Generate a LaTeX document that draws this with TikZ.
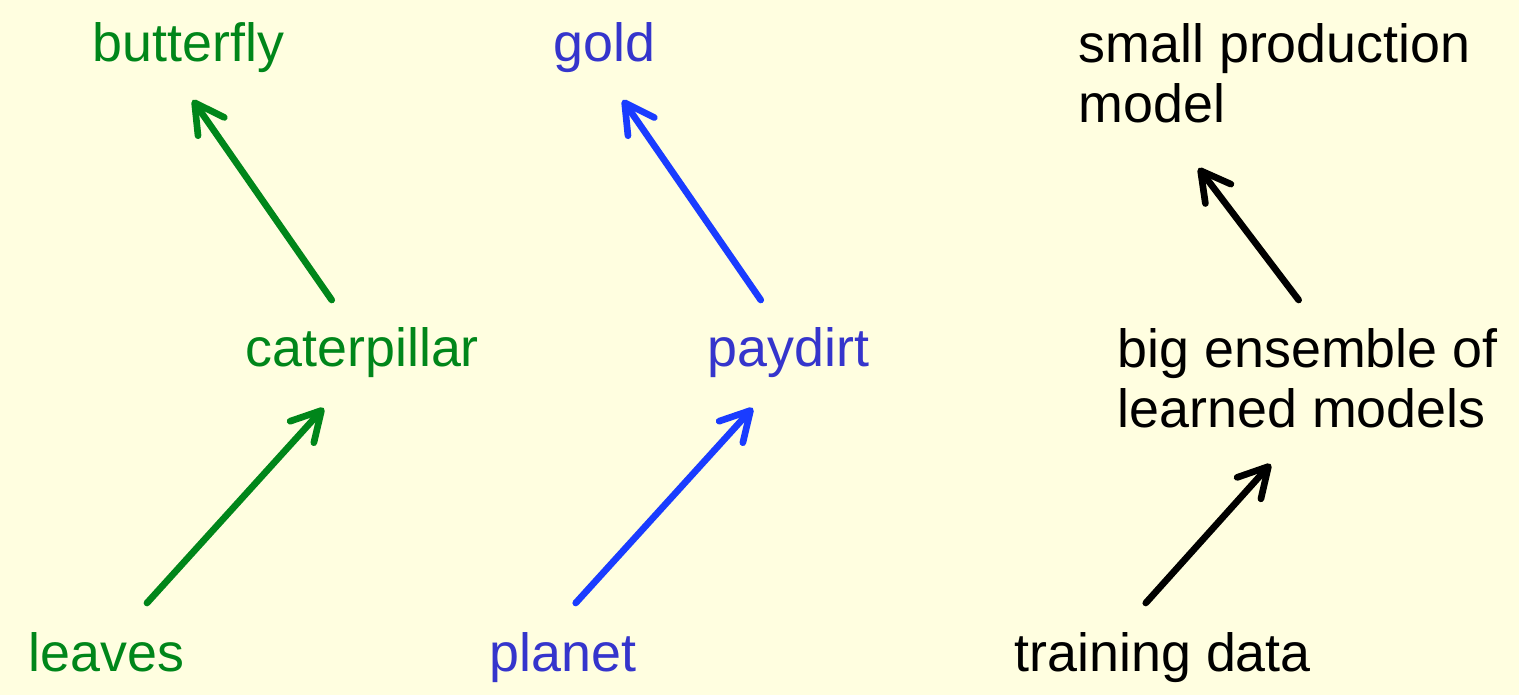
\documentclass[tikz,border=0pt]{standalone}
\usepackage{fontspec}
\setmainfont{Liberation Sans}
\usepackage{xcolor}
\usepackage{tikz}
\usetikzlibrary{arrows.meta}

\definecolor{bgyellow}{HTML}{FFFEE0}
\definecolor{leafgreen}{HTML}{00861A}
\definecolor{dirtblue}{HTML}{3535CC}
\definecolor{shaftblue}{HTML}{1A3CFF}

\begin{document}
\begin{tikzpicture}[x=0.01cm, y=-0.01cm,
        lbl/.style={inner sep=0pt, font=\fontsize{15.3}{17.1}\selectfont},
        stage/.style={line width=1.9pt, line cap=round, line join=round,
            -{Straight Barb[length=2.9mm, width=3.2mm, line cap=round, line join=round]}}]
        % Background
        \fill[bgyellow] (0,0) rectangle (1519,695);

        % Green chain
        \node[lbl, leafgreen, anchor=base west] (leaves) at (28,672) {leaves};
        \node[lbl, leafgreen, anchor=base west] (caterpillar) at (245,367) {caterpillar};
        \node[lbl, leafgreen, anchor=base west] (butterfly) at (92,62) {butterfly};
        \draw[stage, leafgreen] ([shift={(40.5,-69)}]leaves.base) -- ([shift={(-38.6,41)}]caterpillar.base);
        \draw[stage, leafgreen] ([shift={(-30.6,-67)}]caterpillar.base) -- ([shift={(4.3,38)}]butterfly.base);

        % Blue chain
        \node[lbl, dirtblue, anchor=base west] (planet) at (489,672) {planet};
        \node[lbl, dirtblue, anchor=base west] (paydirt) at (707,367) {paydirt};
        \node[lbl, dirtblue, anchor=base west] (gold) at (553,62) {gold};
        \draw[stage, shaftblue] ([shift={(12.7,-69)}]planet.base) -- ([shift={(-35.7,41)}]paydirt.base);
        \draw[stage, shaftblue] ([shift={(-27.7,-67)}]paydirt.base) -- ([shift={(18.2,38)}]gold.base);

        % Black chain
        \node[lbl, anchor=base west] (training) at (1014,672) {training data};
        \node[lbl, anchor=north west, align=left] (ensemble) at (1117,328) {big ensemble of\\learned models};
        \node[lbl, anchor=north west, align=left] (production) at (1078,23) {small production\\model};
        \draw[stage] ([shift={(-17,-69)}]training.base) -- ([shift={(-37,35)}]ensemble.south);
        \draw[stage] ([shift={(-9,-28)}]ensemble.north) -- ([shift={(-76,44)}]production.south);
\end{tikzpicture}
\end{document}
